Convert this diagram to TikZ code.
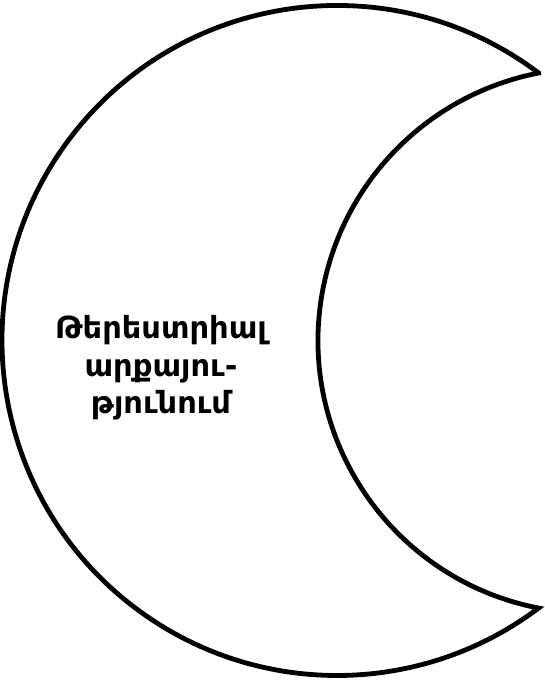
\documentclass[tikz,border=0pt]{standalone}
\usepackage{fontspec}
\newfontfamily\armfont{DejaVu Sans}
\begin{document}
\begin{tikzpicture}[x=1pt,y=1pt,
  crescent/.style={draw=black,line width=4.8pt,line join=miter,fill=white},
  label/.style={align=center,font=\armfont\bfseries\fontsize{30.5}{37.5}\selectfont}]
\useasboundingbox (0,0) rectangle (545,681);
\coordinate (toptip) at ({337+335*cos(53)},{340.5+335*sin(53)});
\draw[crescent] (toptip) arc[start angle=53, end angle=307, radius=335]
  arc[start angle=259.02, end angle=100.98, radius=272.5] -- cycle;
\node[label] (txt) at (161,313) {Թերեստրիալ\\արքայու-\\թյունում};
\end{tikzpicture}
\end{document}
